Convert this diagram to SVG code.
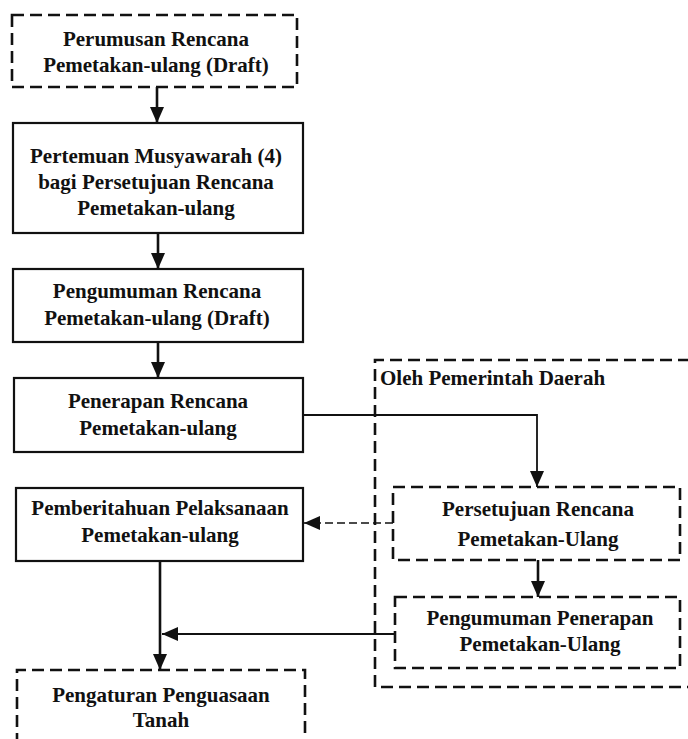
<svg xmlns="http://www.w3.org/2000/svg" width="688" height="739" viewBox="0 0 688 739">
<style>
.box{fill:none;stroke:#111;stroke-width:2.2}
.dash{fill:none;stroke:#111;stroke-width:2.6;stroke-dasharray:12 6}
.t{font-family:"Liberation Serif","Times New Roman",serif;font-size:21px;font-weight:bold;fill:#111;text-anchor:middle}
.lbl{font-family:"Liberation Serif","Times New Roman",serif;font-size:21px;font-weight:bold;fill:#111}
.c{fill:none;stroke:#111;stroke-width:2.6}
.cthin{fill:none;stroke:#111;stroke-width:1.8}
.cdash{fill:none;stroke:#111;stroke-width:1.6;stroke-dasharray:8 4}
</style>
<defs>
<marker id="ah" markerUnits="userSpaceOnUse" markerWidth="16" markerHeight="14" viewBox="0 0 16 14" refX="16" refY="7" orient="auto">
<path d="M0,0 L16,7 L0,14 Z" fill="#111"/>
</marker>
</defs>
<rect width="688" height="739" fill="#fff"/>
<g id="group-pemda">
<path class="dash" d="M690,360 H375 V687 H690"/>
<text class="lbl" x="380" y="385">Oleh Pemerintah Daerah</text>
</g>
<g id="n1">
<rect class="dash" x="12" y="15" width="285" height="72"/>
<text class="t" x="156" y="46">Perumusan Rencana</text>
<text class="t" x="156" y="72">Pemetakan-ulang (Draft)</text>
</g>
<g id="n2">
<rect class="box" x="13" y="123" width="290" height="110"/>
<text class="t" x="156" y="163">Pertemuan Musyawarah (4)</text>
<text class="t" x="156" y="189">bagi Persetujuan Rencana</text>
<text class="t" x="156" y="215">Pemetakan-ulang</text>
</g>
<g id="n3">
<rect class="box" x="13" y="269" width="290" height="73"/>
<text class="t" x="157" y="298">Pengumuman Rencana</text>
<text class="t" x="157" y="325">Pemetakan-ulang (Draft)</text>
</g>
<g id="n4">
<rect class="box" x="14" y="378" width="289" height="74"/>
<text class="t" x="158" y="408">Penerapan Rencana</text>
<text class="t" x="158" y="435">Pemetakan-ulang</text>
</g>
<g id="n5">
<rect class="box" x="16" y="488" width="287" height="73"/>
<text class="t" x="160" y="515">Pemberitahuan Pelaksanaan</text>
<text class="t" x="160" y="542">Pemetakan-ulang</text>
</g>
<g id="n6">
<path class="dash" d="M17,745 V670 H305 V745"/>
<text class="t" x="161" y="702">Pengaturan Penguasaan</text>
<text class="t" x="161" y="727">Tanah</text>
</g>
<g id="n7">
<rect class="dash" x="393" y="487" width="287" height="73"/>
<text class="t" x="538" y="516">Persetujuan Rencana</text>
<text class="t" x="538" y="546">Pemetakan-Ulang</text>
</g>
<g id="n8">
<rect class="dash" x="395" y="597" width="285" height="71"/>
<text class="t" x="540" y="625">Pengumuman Penerapan</text>
<text class="t" x="540" y="651">Pemetakan-Ulang</text>
</g>
<g id="connectors">
<path class="c" d="M157,87 V123" marker-end="url(#ah)"/>
<path class="c" d="M158,233 V269" marker-end="url(#ah)"/>
<path class="c" d="M158,342 V378" marker-end="url(#ah)"/>
<path class="cthin" d="M303,415 H537 V487" marker-end="url(#ah)"/>
<path class="cdash" d="M393,523 H304" marker-end="url(#ah)"/>
<path class="c" d="M538,560 V597" marker-end="url(#ah)"/>
<path class="c" d="M160,561 V670" marker-end="url(#ah)"/>
<path class="cthin" d="M395,634 H162" marker-end="url(#ah)"/>
</g>
</svg>
